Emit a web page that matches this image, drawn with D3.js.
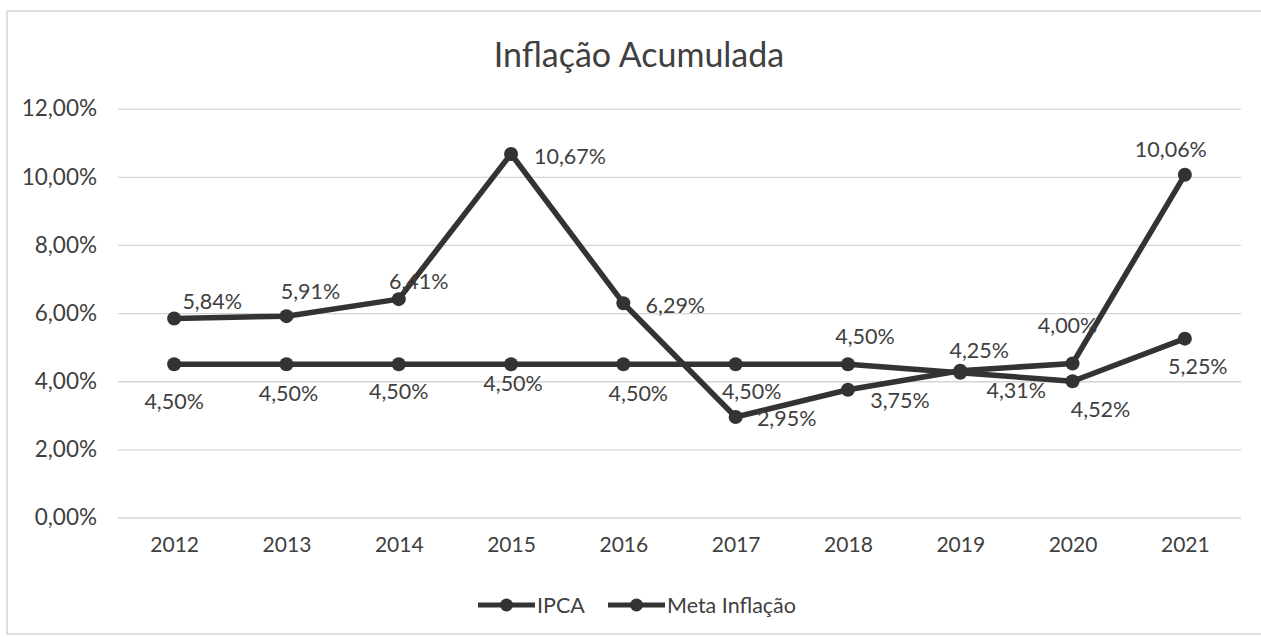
<!DOCTYPE html>
<html>
<head>
<meta charset="utf-8">
<script src="https://cdn.jsdelivr.net/npm/d3@7.9.0/dist/d3.min.js"></script>
<style>
  body { margin:0; background:#fff; }
  svg text { font-family: Lato, "Open Sans", sans-serif; fill:#404040; }
</style>
</head>
<body>
<div id="chart"></div>
<script>
const years     = ['2012','2013','2014','2015','2016','2017','2018','2019','2020','2021'];
const ipca      = [5.84, 5.91, 6.41, 10.67, 6.29, 2.95, 3.75, 4.31, 4.52, 10.06];
const meta      = [4.50, 4.50, 4.50, 4.50, 4.50, 4.50, 4.50, 4.25, 4.00, 5.25];
const yTicks    = [0, 2, 4, 6, 8, 10, 12];
const seriesNames = ['IPCA', 'Meta Inflação'];

// where each data label sits, relative to its point (Excel put them all over)
const ipcaLabelOffset = [[38,-18],[24,-25],[20,-18],[59,2],[52,2],[51,1],[52,10],[56,19],[28,45],[-14,-26]];
const metaLabelOffset = [[0,37],[2,29],[0,27],[2,19],[15,29],[16,27],[17,-28],[19,-23],[-5,-56],[13,27]];

const W = 1261, H = 637;
const plot = {x0:118, x1:1241, y0:517.5, y1:108.7};
const fmt = v => v.toFixed(2).replace('.', ',') + '%';

const svg = d3.select('#chart').append('svg')
  .attr('width', W).attr('height', H);

// chart frame (only top/left/bottom edges survived the scan)
svg.append('path')
  .attr('d', `M1261,11 H7 V634 H1261`)
  .attr('fill','none').attr('stroke','#d6d6d6').attr('stroke-width',1.5);

const x = d3.scalePoint().domain(years).range([plot.x0, plot.x1]).padding(0.5);
const y = d3.scaleLinear().domain([0,12]).range([plot.y0, plot.y1]);

// gridlines
svg.append('g')
  .attr('transform', `translate(${plot.x0},0)`)
  .call(d3.axisLeft(y).tickValues(yTicks).tickSize(-(plot.x1-plot.x0)).tickFormat(''))
  .call(g => g.select('.domain').remove())
  .call(g => g.selectAll('line').attr('stroke','#d4d4d4').attr('stroke-width',1.3));

// y labels
svg.append('g')
  .attr('transform', `translate(97,0)`)
  .call(d3.axisLeft(y).tickValues(yTicks).tickSize(0).tickPadding(0).tickFormat(fmt))
  .call(g => g.select('.domain').remove())
  .call(g => g.selectAll('text').attr('font-size',22.5).attr('fill','#404040')
    .style('font-family','Lato'));

// x labels
svg.append('g')
  .attr('transform', `translate(0,${plot.y0})`)
  .call(d3.axisBottom(x).tickSize(0).tickPadding(20))
  .call(g => g.select('.domain').remove())
  .call(g => g.selectAll('text').attr('font-size',21).attr('fill','#404040')
    .style('font-family','Lato'));

// title
svg.append('text')
  .attr('x', 639).attr('y', 67)
  .attr('text-anchor','middle')
  .attr('font-size', 34)
  .text('Inflação Acumulada');

const line = d3.line().x((d,i) => x(years[i])).y(d => y(d));
const lineColor = '#333333';

function drawSeries (vals) {
  const g = svg.append('g');
  g.append('path')
    .datum(vals)
    .attr('d', line)
    .attr('fill','none')
    .attr('stroke', lineColor)
    .attr('stroke-width', 5.5)
    .attr('stroke-linejoin','round');
  g.selectAll('circle').data(vals).join('circle')
    .attr('cx', (d,i) => x(years[i]))
    .attr('cy', d => y(d))
    .attr('r', 7)
    .attr('fill', lineColor);
}

drawSeries(meta);
drawSeries(ipca);

function drawLabels (vals, offsets) {
  svg.append('g').selectAll('text').data(vals).join('text')
    .attr('x', (d,i) => x(years[i]) + offsets[i][0])
    .attr('y', (d,i) => y(d) + offsets[i][1])
    .attr('text-anchor','middle')
    .attr('dominant-baseline','central')
    .attr('font-size', 21.5)
    .text(fmt);
}
drawLabels(ipca, ipcaLabelOffset);
drawLabels(meta, metaLabelOffset);

// legend
const legend = svg.append('g').attr('transform','translate(478,605)');
const legendX = [0, 130];
seriesNames.forEach((name,i) => {
  const lg = legend.append('g').attr('transform', `translate(${legendX[i]},0)`);
  lg.append('line').attr('x1',0).attr('x2',57).attr('y1',0).attr('y2',0)
    .attr('stroke',lineColor).attr('stroke-width',5);
  lg.append('circle').attr('cx',28.5).attr('cy',0).attr('r',6.5).attr('fill',lineColor);
  lg.append('text').attr('x',59).attr('y',0)
    .attr('dominant-baseline','central')
    .attr('font-size',21.5)
    .text(name);
});
</script>
</body>
</html>
